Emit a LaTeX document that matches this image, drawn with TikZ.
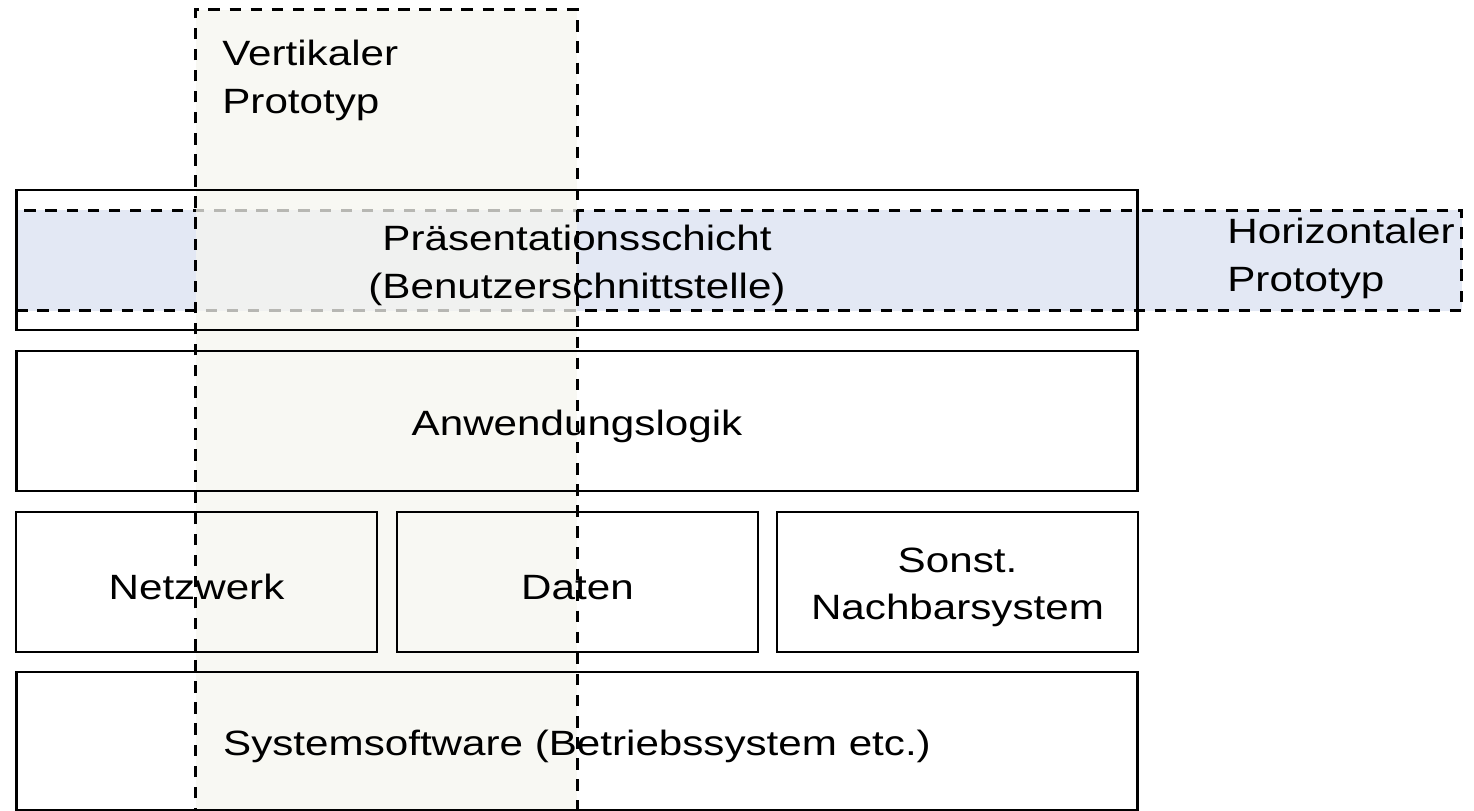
\documentclass[tikz,border=0pt]{standalone}
\usepackage{fontspec}
\setmainfont[FakeStretch=1.2]{Liberation Sans}
\definecolor{protoblue}{HTML}{E3E8F4}
\definecolor{protogrey}{HTML}{F5F5EF}

\begin{document}
\begin{tikzpicture}[x=0.02cm, y=-0.02cm,
    every node/.style={font=\fontsize{20}{27}\selectfont, align=center},
    every label/.style={yshift=-3pt, inner sep=0pt},
    layer/.style={draw, line width=1.6pt, inner sep=0pt, minimum height=2.8cm, minimum width=22.44cm},
    part/.style={layer, minimum width=7.22cm},
    protoline/.style={line width=1.7pt, dash pattern=on 6.5pt off 5.5pt},
    hproto/.style={fill=protoblue, draw, protoline, inner sep=0pt, minimum width=28.92cm, minimum height=2.02cm},
    vproto/.style={fill=protogrey, fill opacity=0.75, inner sep=0pt, minimum width=7.62cm, minimum height=16.6cm},
    protolabel/.style={anchor=north west, inner sep=0pt, align=left}]
  \useasboundingbox (0,0) rectangle (1474,811);
  \clip (0,0) rectangle (1474,811);

  % prototypen (hintergrund)
  \node[hproto] (horiz) at (739,260.5) {};
  \node[vproto] (vert) at (386.5,425) {};

  % schichten
  \node[layer, label={center:{Präsentationsschicht\\(Benutzerschnittstelle)}}] (praes) at (577,260) {};
  \node[layer, label={center:Anwendungslogik}] (anw) at (577,421) {};
  \node[part, label={center:Netzwerk}] (netz) at (196.5,582) {};
  \node[part, label={center:Daten}] (daten) at (577.5,582) {};
  \node[part, label={center:{Sonst.\\Nachbarsystem}}] (sonst) at (957.5,582) {};
  \node[layer, minimum height=2.76cm, label={center:Systemsoftware (Betriebssystem etc.)}] (sys) at (577,741) {};

  % rand vertikaler prototyp
  \draw[protoline] (vert.south west) rectangle (vert.north east);

  \node[protolabel] (vlabel) at (222,40) {Vertikaler\\Prototyp};
  \node[protolabel] (hlabel) at (1227,218) {Horizontaler\\Prototyp};
\end{tikzpicture}
\end{document}
